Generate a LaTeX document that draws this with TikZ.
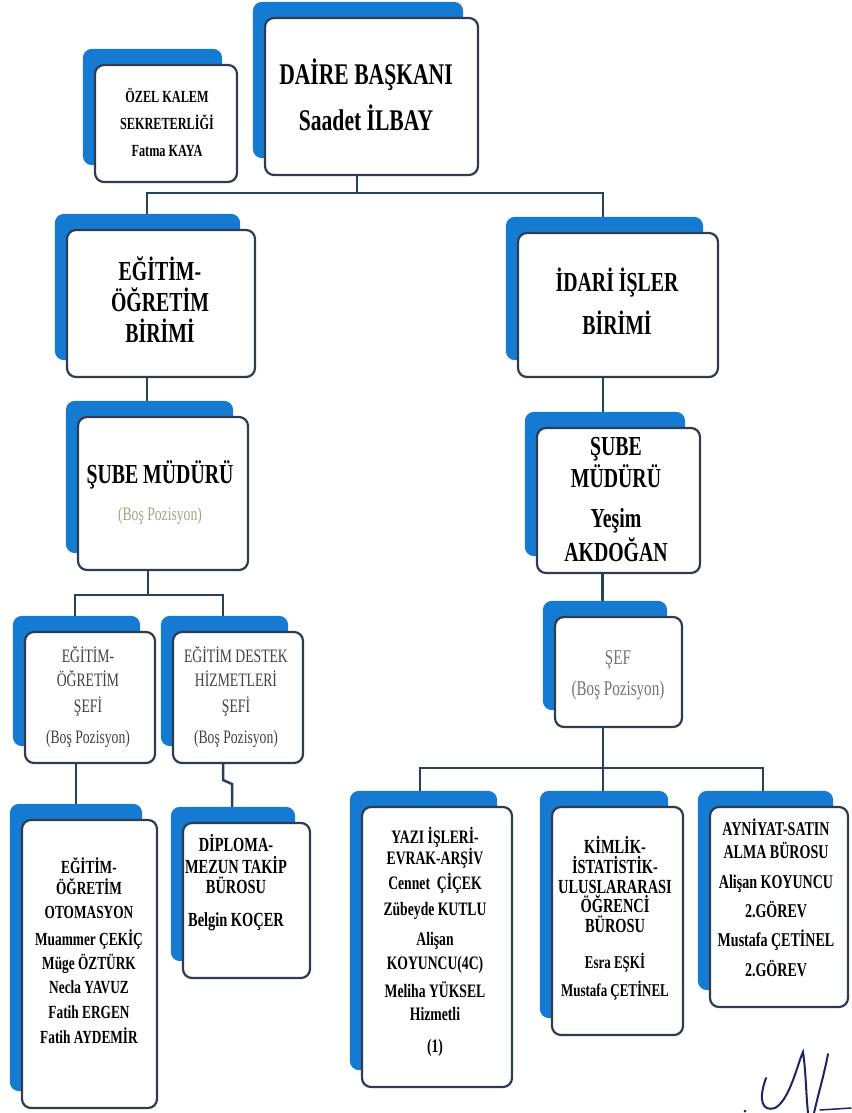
\documentclass[tikz,border=0pt]{standalone}
\usepackage{fontspec}
\setmainfont{Liberation Serif}[FakeStretch=0.72]
\pgfdeclarelayer{conn}
\pgfdeclarelayer{back}
\pgfsetlayers{conn,back,main}
\definecolor{blueback}{RGB}{20,122,210}
\definecolor{boxline}{RGB}{45,60,78}
\definecolor{connc}{RGB}{40,65,90}
\definecolor{sefgray}{RGB}{65,65,65}
\definecolor{tanc}{RGB}{170,160,135}
\definecolor{lgray}{RGB}{115,115,115}
\definecolor{signc}{RGB}{30,35,100}
\newcommand\obox[5]{%
  \node[box,minimum width=#4pt,minimum height=#5pt] (#1) at (#2,#3) {};
  \begin{pgfonlayer}{back}
    \fill[backbox] ([shift={(-11pt,15pt)}]#1.north west) rectangle ([shift={(-16pt,18pt)}]#1.south east);
  \end{pgfonlayer}}
\begin{document}
\begin{tikzpicture}[x=1pt,y=-1pt,
  box/.style={draw=boxline,line width=2.2pt,fill=white,rounded corners=9pt,inner sep=0pt},
  backbox/.style={fill=blueback,rounded corners=9pt},
  conn/.style={draw=connc,line width=2.5pt},
  hd/.style={anchor=base,inner sep=0pt,text=black,font=\bfseries\fontsize{#1}{#1}\selectfont},
  rg/.style={anchor=base,inner sep=0pt,text=sefgray,font=\fontsize{#1}{#1}\selectfont},
  bos/.style={anchor=base,inner sep=0pt,text=tanc,font=\fontsize{#1}{#1}\selectfont},
  lg/.style={anchor=base,inner sep=0pt,text=lgray,font=\fontsize{#1}{#1}\selectfont},
  sig/.style={draw=signc,line width=2pt,line cap=round}]
\useasboundingbox (0,0) rectangle (851,1113);
% boxes
\obox{ozel}{166}{123.5}{142}{117}
\obox{baskan}{371.5}{96.5}{213}{157}
\obox{egbirim}{161}{303.5}{188}{147}
\obox{idari}{618}{305}{200}{144}
\obox{sube1}{163}{493.5}{170}{153}
\obox{sube2}{618.5}{500.5}{163}{145}
\obox{sef1}{90}{697.5}{130}{131}
\obox{sef2}{238}{697.5}{130}{131}
\obox{sef3}{618.5}{672}{127}{110}
\obox{oto}{89.5}{964}{135}{288}
\obox{dip}{246.5}{900.5}{127}{155}
\obox{yazi}{437}{947}{150}{280}
\obox{kimlik}{617.5}{921}{131}{228}
\obox{ayn}{779}{907}{138}{200}
% connectors
\begin{pgfonlayer}{conn}
\coordinate (bus1) at (357,193);
\draw[conn] (baskan.south -| bus1) -- (bus1);
\draw[conn] (bus1) -| ([xshift=-14pt]egbirim.north);
\draw[conn] (bus1) -| ([xshift=-15pt]idari.north);
\draw[conn] ([xshift=-14pt]egbirim.south) -- ([xshift=-14pt]egbirim.south |- sube1.north);
\draw[conn] ([xshift=-15pt]idari.south) -- ([xshift=-15pt]idari.south |- sube2.north);
\coordinate (bus2) at (148,595);
\draw[conn] (sube1.south -| bus2) -- (bus2);
\draw[conn] (bus2) -| ([xshift=-15pt]sef1.north);
\draw[conn] (bus2) -| ([xshift=-15pt]sef2.north);
\draw[conn] ([xshift=-16pt]sube2.south) -- ([xshift=-16pt]sube2.south |- sef3.north);
\coordinate (bus3) at (603,768);
\draw[conn] (sef3.south -| bus3) -- (bus3);
\draw[conn] (bus3) -| ([xshift=-17pt]yazi.north);
\draw[conn] (bus3) -| ([xshift=-16pt]ayn.north);
\draw[conn] (bus3) -- (bus3 |- kimlik.north);
\draw[conn] ([xshift=-14pt]sef1.south) -- ([xshift=-14pt]sef1.south |- oto.north);
\coordinate (z1) at (223,780);
\coordinate (z2) at (232,784);
\draw[conn] (sef2.south -| z1) -- (z1) -- (z2) -- (z2 |- dip.north);
\end{pgfonlayer}
% texts
\node[hd=17] (ozel1) at (167,103) {ÖZEL KALEM};
\node[hd=17] (ozel2) at (167,130) {SEKRETERLİĞİ};
\node[hd=17] (ozel3) at (167,156) {Fatma KAYA};
\node[hd=30] (bas1) at (366,85) {DAİRE BAŞKANI};
\node[hd=30] (bas2) at (366,131) {Saadet İLBAY};
\node[hd=27.5] (eg1) at (160,280) {EĞİTİM-};
\node[hd=27.5] (eg2) at (160,311) {ÖĞRETİM};
\node[hd=27.5] (eg3) at (160,342) {BİRİMİ};
\node[hd=27.5] (id1) at (617,291) {İDARİ İŞLER};
\node[hd=27.5] (id2) at (617,334) {BİRİMİ};
\node[hd=27.5] (sm1) at (160,483) {ŞUBE MÜDÜRÜ};
\node[bos=19] (sm2) at (160,520) {(Boş Pozisyon)};
\node[hd=27.5] (sr1) at (616,455) {ŞUBE};
\node[hd=27.5] (sr2) at (616,487) {MÜDÜRÜ};
\node[hd=27.5] (sr3) at (616,527) {Yeşim};
\node[hd=27.5] (sr4) at (616,561) {AKDOĞAN};
\node[rg=19] (sa1) at (88,662) {EĞİTİM-};
\node[rg=19] (sa2) at (88,686) {ÖĞRETİM};
\node[rg=19] (sa3) at (88,712) {ŞEFİ};
\node[rg=19] (sa4) at (88,743) {(Boş Pozisyon)};
\node[rg=19] (sb1) at (236,662) {EĞİTİM DESTEK};
\node[rg=19] (sb2) at (236,686) {HİZMETLERİ};
\node[rg=19] (sb3) at (236,712) {ŞEFİ};
\node[rg=19] (sb4) at (236,743) {(Boş Pozisyon)};
\node[lg=21] (sc1) at (618,664) {ŞEF};
\node[lg=21] (sc2) at (618,695) {(Boş Pozisyon)};
\node[hd=18.5] (ot1) at (89,873) {EĞİTİM-};
\node[hd=18.5] (ot2) at (89,894) {ÖĞRETİM};
\node[hd=18.5] (ot3) at (89,918) {OTOMASYON};
\node[hd=18.5] (ot4) at (89,945) {Muammer ÇEKİÇ};
\node[hd=18.5] (ot5) at (89,969) {Müge ÖZTÜRK};
\node[hd=18.5] (ot6) at (89,993) {Necla YAVUZ};
\node[hd=18.5] (ot7) at (89,1018) {Fatih ERGEN};
\node[hd=18.5] (ot8) at (89,1043) {Fatih AYDEMİR};
\node[hd=20] (dp1) at (236,851) {DİPLOMA-};
\node[hd=20] (dp2) at (236,873) {MEZUN TAKİP};
\node[hd=20] (dp3) at (236,893) {BÜROSU};
\node[hd=20] (dp4) at (236,926) {Belgin KOÇER};
\node[hd=19] (yz1) at (435,843) {YAZI İŞLERİ-};
\node[hd=19] (yz2) at (435,864) {EVRAK-ARŞİV};
\node[hd=19] (yz3) at (435,889) {Cennet\ \ ÇİÇEK};
\node[hd=19] (yz4) at (435,915) {Zübeyde KUTLU};
\node[hd=19] (yz5) at (435,945) {Alişan};
\node[hd=19] (yz6) at (435,969) {KOYUNCU(4C)};
\node[hd=19] (yz7) at (435,997) {Meliha YÜKSEL};
\node[hd=19] (yz8) at (435,1020) {Hizmetli};
\node[hd=19] (yz9) at (435,1052) {(1)};
\node[hd=20] (km1) at (615,853) {KİMLİK-};
\node[hd=20] (km2) at (615,873) {İSTATİSTİK-};
\node[hd=20] (km3) at (615,893) {ULUSLARARASI};
\node[hd=20] (km4) at (615,912) {ÖĞRENCİ};
\node[hd=20] (km5) at (615,932) {BÜROSU};
\node[hd=18] (km6) at (615,968) {Esra EŞKİ};
\node[hd=18] (km7) at (615,996) {Mustafa ÇETİNEL};
\node[hd=19.5] (ay1) at (776,835) {AYNİYAT-SATIN};
\node[hd=19.5] (ay2) at (776,858) {ALMA BÜROSU};
\node[hd=19.5] (ay3) at (776,888) {Alişan KOYUNCU};
\node[hd=19.5] (ay4) at (776,917) {2.GÖREV};
\node[hd=19.5] (ay5) at (776,946) {Mustafa ÇETİNEL};
\node[hd=19.5] (ay6) at (776,976) {2.GÖREV};
% signature
\draw[sig] (766,1078) .. controls (758,1100) and (762,1112) .. (775,1108) .. controls (790,1100) and (798,1062) .. (803,1052) .. controls (806,1072) and (806,1095) .. (808,1113);
\draw[sig] (828,1054) .. controls (824,1075) and (818,1095) .. (814,1113);
\draw[sig,line width=1.5pt] (820,1110) -- (851,1108);
\fill[signc] (745,1111) circle (1.5pt);
\end{tikzpicture}
\end{document}
